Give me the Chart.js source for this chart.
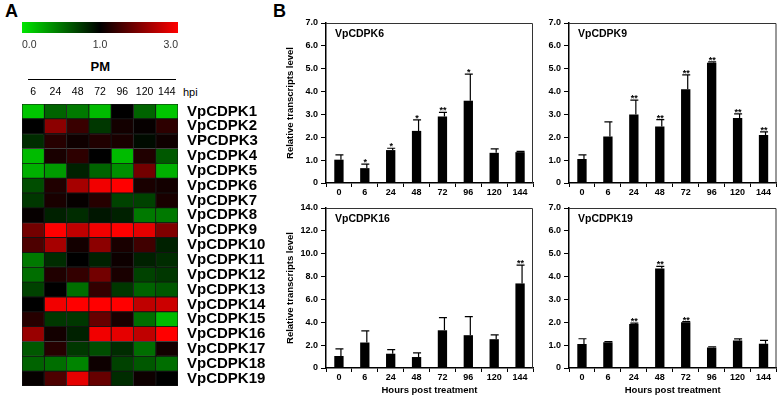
<!DOCTYPE html>
<html>
<head>
<meta charset="utf-8">
<script src="https://cdn.jsdelivr.net/npm/chart.js@4.4.1/dist/chart.umd.min.js"></script>
<style>
  html, body { margin: 0; padding: 0; background: #fff; }
  #fig { position: relative; width: 778px; height: 396px; overflow: hidden; font-family: Arial, "Liberation Sans", sans-serif; color: #000; }
  canvas { position: absolute; }
  .lbl { position: absolute; line-height: 1; white-space: nowrap; color: #000; }
</style>
</head>
<body>
<div id="fig">
  <div class="lbl" style="left:5px;top:2px;font-size:18px;font-weight:bold">A</div>
  <div class="lbl" style="left:273px;top:1.5px;font-size:18px;font-weight:bold">B</div>
  <div class="lbl" style="left:90.5px;top:60px;font-size:13px;font-weight:bold">PM</div>
  <div style="position:absolute;left:28px;top:79px;width:148px;height:0;border-top:1.5px solid #000"></div>
  <div class="lbl" style="left:183px;top:87px;font-size:11px;color:#000">hpi</div>

  <canvas id="cbar" width="268" height="55" style="left:0;top:0"></canvas>
  <canvas id="heat" width="268" height="316" style="left:0;top:80px"></canvas>
  <canvas id="c6" width="268" height="200" style="left:270px;top:0"></canvas>
  <canvas id="c9" width="265" height="200" style="left:513px;top:0"></canvas>
  <canvas id="c16" width="268" height="211" style="left:270px;top:185px"></canvas>
  <canvas id="c19" width="265" height="211" style="left:513px;top:185px"></canvas>
</div>
<script>
// ---- panel A: heat map (relative expression, 0 = green, 1 = black, 3 = red)
const colorbarTicks = ['0.0', '1.0', '3.0'];
const hpiLabels = ['6', '24', '48', '72', '96', '120', '144'];
const genes = ['VpCDPK1', 'VpCDPK2', 'VPCDPK3', 'VpCDPK4', 'VpCDPK5', 'VpCDPK6', 'VpCDPK7',
  'VpCDPK8', 'VpCDPK9', 'VpCDPK10', 'VpCDPK11', 'VpCDPK12', 'VpCDPK13', 'VpCDPK14',
  'VpCDPK15', 'VpCDPK16', 'VpCDPK17', 'VpCDPK18', 'VpCDPK19'];
const heatRows = [
  [0.1, 0.55, 0.45, 0.15, 1.0, 0.55, 0.1],
  [1.0, 2.1, 1.45, 0.75, 1.15, 1.05, 1.35],
  [0.8, 1.3, 1.12, 1.25, 1.2, 0.95, 1.12],
  [0.15, 1.2, 1.35, 1.0, 0.15, 1.25, 0.6],
  [0.2, 0.3, 0.85, 0.55, 0.35, 1.9, 0.2],
  [0.65, 1.25, 2.3, 2.9, 3.0, 1.2, 1.15],
  [0.75, 1.2, 1.05, 1.3, 0.7, 0.7, 1.2],
  [1.05, 0.85, 0.8, 0.9, 0.85, 0.45, 0.45],
  [1.9, 3.0, 2.5, 2.9, 3.0, 2.8, 2.0],
  [1.6, 2.3, 1.15, 2.1, 1.2, 1.5, 0.85],
  [0.45, 0.8, 1.0, 0.85, 1.1, 0.85, 0.8],
  [0.5, 1.25, 1.4, 1.9, 1.2, 0.7, 0.75],
  [0.7, 1.0, 0.5, 1.4, 0.75, 0.55, 0.6],
  [1.0, 2.9, 3.0, 3.0, 3.0, 2.5, 2.6],
  [1.3, 0.75, 0.75, 1.8, 1.2, 0.5, 0.15],
  [2.2, 1.15, 0.85, 2.9, 2.8, 2.5, 3.0],
  [0.6, 1.3, 0.75, 0.65, 0.8, 0.5, 1.15],
  [0.55, 0.5, 0.4, 1.1, 0.7, 0.6, 0.5],
  [1.05, 1.6, 2.8, 1.8, 0.8, 1.1, 1.0]
];

// ---- panel B: qRT-PCR bars
const hours = ['0', '6', '24', '48', '72', '96', '120', '144'];
const cdpk6Mean = [1.02, 0.65, 1.44, 2.28, 2.91, 3.6, 1.32, 1.35];
const cdpk6Err = [0.21, 0.18, 0.08, 0.48, 0.18, 1.16, 0.17, 0.03];
const cdpk6Sig = ['', '*', '*', '*', '**', '*', '', ''];
const cdpk9Mean = [1.05, 2.03, 3.0, 2.47, 4.1, 5.26, 2.84, 2.1];
const cdpk9Err = [0.18, 0.64, 0.63, 0.3, 0.63, 0.04, 0.18, 0.14];
const cdpk9Sig = ['', '', '**', '**', '**', '**', '**', '**'];
const cdpk16Mean = [1.05, 2.23, 1.25, 0.96, 3.3, 2.87, 2.52, 7.4];
const cdpk16Err = [0.63, 1.02, 0.35, 0.37, 1.1, 1.62, 0.37, 1.6];
const cdpk16Sig = ['', '', '', '', '', '', '', '**'];
const cdpk19Mean = [1.05, 1.13, 1.92, 4.35, 2.0, 0.9, 1.2, 1.06];
const cdpk19Err = [0.23, 0.03, 0.04, 0.1, 0.03, 0.03, 0.07, 0.15];
const cdpk19Sig = ['', '', '**', '**', '**', '', '', ''];
const yTicks7 = ['0', '1.0', '2.0', '3.0', '4.0', '5.0', '6.0', '7.0'];
const yTicks14 = ['0', '2.0', '4.0', '6.0', '8.0', '10.0', '12.0', '14.0'];

const FONT = 'Arial, "Liberation Sans", sans-serif';
Chart.defaults.font.family = FONT;
Chart.defaults.color = '#000';

function heatColor(v) {
  if (v <= 1) return 'rgb(0,' + Math.round((1 - v) * 220) + ',0)';
  return 'rgb(' + Math.round(Math.min(v - 1, 2) / 2 * 255) + ',0,0)';
}

const noPlugins = { legend: { display: false }, tooltip: { enabled: false } };

// colour key
new Chart(document.getElementById('cbar'), {
  type: 'bar',
  data: {
    labels: ['key'],
    datasets: [{
      data: [[0, 2]],
      backgroundColor: ctx => {
        const area = ctx.chart.chartArea;
        if (!area) return '#000';
        const g = ctx.chart.ctx.createLinearGradient(area.left, 0, area.right, 0);
        g.addColorStop(0, 'rgb(0,230,0)');
        g.addColorStop(0.5, '#000');
        g.addColorStop(1, 'rgb(255,0,0)');
        return g;
      },
      borderWidth: 0,
      barPercentage: 1,
      categoryPercentage: 1
    }]
  },
  options: {
    indexAxis: 'y',
    responsive: false,
    animation: false,
    layout: { padding: { left: 22, right: 90, top: 22, bottom: 0 } },
    plugins: noPlugins,
    scales: {
      x: {
        type: 'linear', min: 0, max: 2,
        grid: { display: false, drawTicks: false },
        border: { display: false },
        ticks: { stepSize: 1, autoSkip: false, align: 'inner', padding: 6, color: '#333', font: { size: 10.5 },
          callback: (v, i) => colorbarTicks[i] },
        afterFit: s => { s.height = 22; }
      },
      y: { display: false }
    }
  }
});

// heat map cells: one floating bar per cell
new Chart(document.getElementById('heat'), {
  type: 'bar',
  data: {
    labels: genes,
    datasets: hpiLabels.map((h, c) => ({
      data: genes.map(() => [c, c + 1]),
      backgroundColor: genes.map((g, r) => heatColor(heatRows[r][c])),
      borderColor: '#141414',
      borderWidth: 0.8,
      borderSkipped: false,
      grouped: false,
      barPercentage: 1,
      categoryPercentage: 1
    }))
  },
  options: {
    indexAxis: 'y',
    responsive: false,
    animation: false,
    layout: { padding: { left: 22, right: 0, top: 0, bottom: 10 } },
    plugins: noPlugins,
    scales: {
      x: { type: 'linear', min: 0, max: 7, display: false },
      xTop: {
        type: 'category', labels: hpiLabels, position: 'top', offset: true,
        grid: { display: false, drawTicks: false },
        border: { display: false },
        ticks: { autoSkip: false, maxRotation: 0, minRotation: 0, padding: 6, color: '#000', font: { size: 10.5 } },
        afterFit: s => { s.height = 24; s.paddingLeft = 0; s.paddingRight = 0; }
      },
      y: {
        type: 'category', position: 'right',
        grid: { display: false, drawTicks: false },
        border: { display: false },
        ticks: { autoSkip: false, padding: 9, color: '#000', font: { size: 15, weight: 'bold', lineHeight: 1 } },
        afterFit: s => { s.width = 90; s.paddingTop = 0; s.paddingBottom = 0; }
      }
    }
  }
});

// error bars, asterisks, plot frame and gene name
const barExtras = {
  id: 'barExtras',
  afterDatasetsDraw(chart, args, opts) {
    const { ctx, chartArea: a, scales: { y } } = chart;
    const meta = chart.getDatasetMeta(0);
    const vals = chart.data.datasets[0].data;
    ctx.save();
    ctx.strokeStyle = '#000';
    ctx.fillStyle = '#000';
    ctx.lineWidth = 1.2;
    ctx.font = 'bold 9px ' + FONT;
    ctx.textAlign = 'center';
    ctx.textBaseline = 'alphabetic';
    meta.data.forEach((bar, i) => {
      const yTop = y.getPixelForValue(vals[i] + opts.errors[i]);
      ctx.beginPath();
      ctx.moveTo(bar.x + 2, bar.y);
      ctx.lineTo(bar.x + 2, yTop);
      ctx.moveTo(bar.x - 3.5, yTop);
      ctx.lineTo(bar.x + 4.5, yTop);
      ctx.stroke();
      if (opts.stars[i]) ctx.fillText(opts.stars[i], bar.x + 0.5, yTop + 1);
    });
    ctx.strokeStyle = '#333';
    ctx.lineWidth = 1;
    ctx.beginPath();
    ctx.moveTo(a.left, a.top + 0.5);
    ctx.lineTo(a.right - 0.5, a.top + 0.5);
    ctx.lineTo(a.right - 0.5, a.bottom);
    ctx.stroke();
    ctx.font = 'bold 10.5px ' + FONT;
    ctx.textAlign = 'left';
    ctx.textBaseline = 'middle';
    ctx.fillText(opts.name, a.left + 9, a.top + 11);
    ctx.restore();
  }
};

function barChart(id, name, means, errors, stars, yMax, yTickLabels, rightPad, showYTitle, showXTitle) {
  new Chart(document.getElementById(id), {
    type: 'bar',
    data: {
      labels: hours,
      datasets: [{ data: means, backgroundColor: '#000', borderWidth: 0, barPercentage: 0.36, categoryPercentage: 1 }]
    },
    plugins: [barExtras],
    options: {
      responsive: false,
      animation: false,
      layout: { padding: { left: 0, right: rightPad, top: 23, bottom: 0 } },
      plugins: Object.assign({ barExtras: { name: name, errors: errors, stars: stars } }, noPlugins),
      scales: {
        x: {
          grid: { display: true, drawOnChartArea: false, drawTicks: true, tickLength: 4, offset: true, color: '#000', lineWidth: 1 },
          border: { display: true, color: '#000', width: 1.5 },
          ticks: { autoSkip: false, maxRotation: 0, padding: 0, color: '#000', font: { size: 9, weight: 'bold' } },
          title: { display: showXTitle, text: 'Hours post treatment', color: '#000',
            font: { size: 9.5, weight: 'bold' }, padding: { top: 0, bottom: 0 } },
          afterFit: s => { s.height = showXTitle ? 28 : 17; s.paddingLeft = 0; s.paddingRight = 0; }
        },
        y: {
          min: 0, max: yMax,
          grid: { display: true, drawOnChartArea: false, drawTicks: true, tickLength: 5, color: '#000', lineWidth: 1 },
          border: { display: true, color: '#000', width: 1.5 },
          ticks: { stepSize: yMax / 7, autoSkip: false, padding: 3, color: '#000', font: { size: 9, weight: 'bold' },
            callback: (v, i) => yTickLabels[i] },
          title: { display: showYTitle, text: 'Relative transcripts level', color: '#000',
            font: { size: 9.5, weight: 'bold' }, padding: { top: 15, bottom: 0 } },
          afterFit: s => { s.width = 56; s.paddingTop = 0; s.paddingBottom = 0; }
        }
      }
    }
  });
}

barChart('c6', 'VpCDPK6', cdpk6Mean, cdpk6Err, cdpk6Sig, 7, yTicks7, 5, true, false);
barChart('c9', 'VpCDPK9', cdpk9Mean, cdpk9Err, cdpk9Sig, 7, yTicks7, 1.5, false, false);
barChart('c16', 'VpCDPK16', cdpk16Mean, cdpk16Err, cdpk16Sig, 14, yTicks14, 5, true, true);
barChart('c19', 'VpCDPK19', cdpk19Mean, cdpk19Err, cdpk19Sig, 7, yTicks7, 1.5, false, true);
</script>
</body>
</html>
